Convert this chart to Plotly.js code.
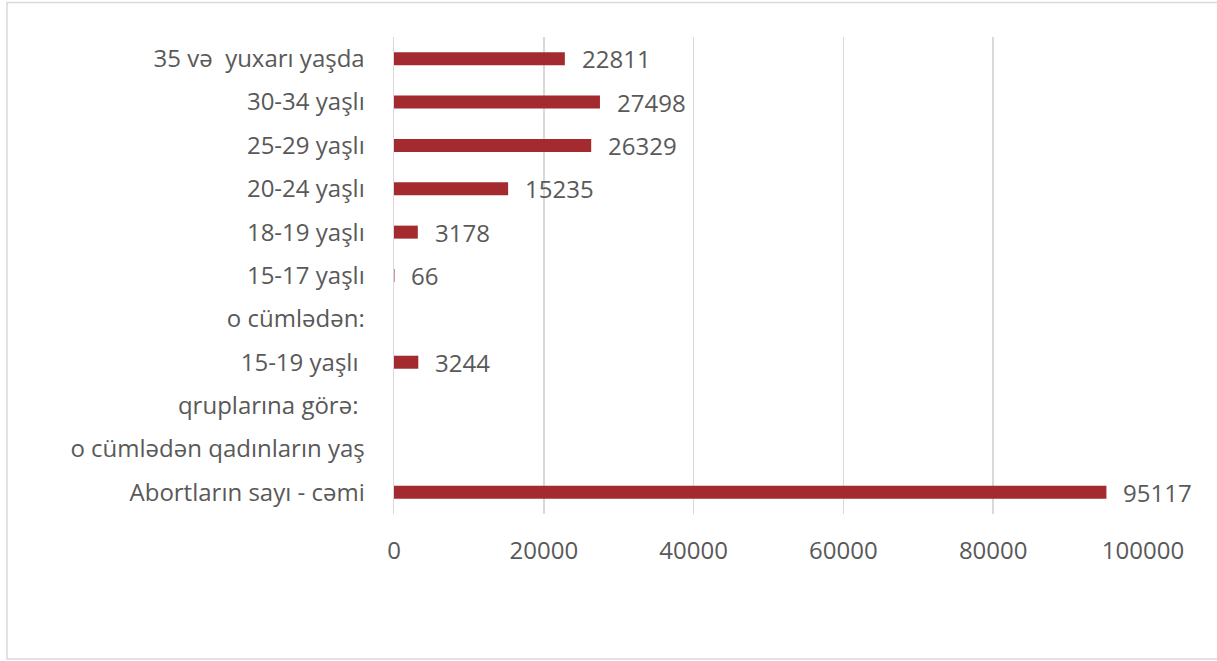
<!DOCTYPE html>
<html>
<head>
<meta charset="utf-8">
<script src="https://cdn.plot.ly/plotly-3.0.1.min.js"></script>
<style>html,body{margin:0;padding:0;background:#fff;}#chart{width:1217px;height:661px;}</style>
</head>
<body>
<div id="chart"></div>
<script>
const categories = [
  "35 və  yuxarı yaşda",
  "30-34 yaşlı",
  "25-29 yaşlı",
  "20-24 yaşlı",
  "18-19 yaşlı",
  "15-17 yaşlı",
  "o cümlədən:",
  "15-19 yaşlı ",
  "qruplarına görə: ",
  "o cümlədən qadınların yaş",
  "Abortların sayı - cəmi"
];
const values = [22811, 27498, 26329, 15235, 3178, 66, null, 3244, null, null, 95117];
const xTicks = [0, 20000, 40000, 60000, 80000, 100000];

const textColor = '#595959';
const fontFamily = 'Open Sans, Liberation Sans, sans-serif';
const fontSize = 24;

const annotations = [];
categories.forEach((c, i) => {
  if (values[i] !== null) {
    annotations.push({
      x: values[i], y: c, xref: 'x', yref: 'y',
      text: String(values[i]), showarrow: false,
      xanchor: 'left', yanchor: 'middle', xshift: 15,
      font: {family: fontFamily, size: fontSize, color: textColor}
    });
  }
});

const trace = {
  type: 'bar', orientation: 'h',
  y: categories, x: values,
  marker: {color: '#A32A2E'},
  hoverinfo: 'none'
};

const layout = {
  width: 1217, height: 661,
  margin: {l: 394, r: 74, t: 37, b: 147},
  paper_bgcolor: '#ffffff', plot_bgcolor: '#ffffff',
  showlegend: false,
  bargap: 0.70,
  font: {family: fontFamily, size: fontSize, color: textColor},
  xaxis: {
    range: [0, 100000], tickvals: xTicks, ticktext: xTicks.map(String),
    showgrid: true, gridcolor: '#d9d9d9', gridwidth: 1.5,
    zeroline: false, showline: false, ticks: '',
    ticklabelstandoff: 20,
    tickfont: {family: fontFamily, size: fontSize, color: textColor},
    fixedrange: true
  },
  yaxis: {
    type: 'category', categoryorder: 'array', categoryarray: categories,
    autorange: 'reversed',
    showline: true, linecolor: '#d9d9d9', linewidth: 1.5,
    showgrid: false, zeroline: false, ticks: '',
    ticklabelstandoff: 23,
    tickfont: {family: fontFamily, size: fontSize, color: textColor},
    fixedrange: true
  },
  annotations: annotations,
  shapes: [{
    type: 'rect', xref: 'paper', yref: 'paper',
    x0: -0.5167, x1: 1.2, y0: -0.304, y1: 1.0723,
    line: {color: '#d9d9d9', width: 1.5}
  }]
};

Plotly.newPlot('chart', [trace], layout, {displayModeBar: false, staticPlot: true});
</script>
</body>
</html>
